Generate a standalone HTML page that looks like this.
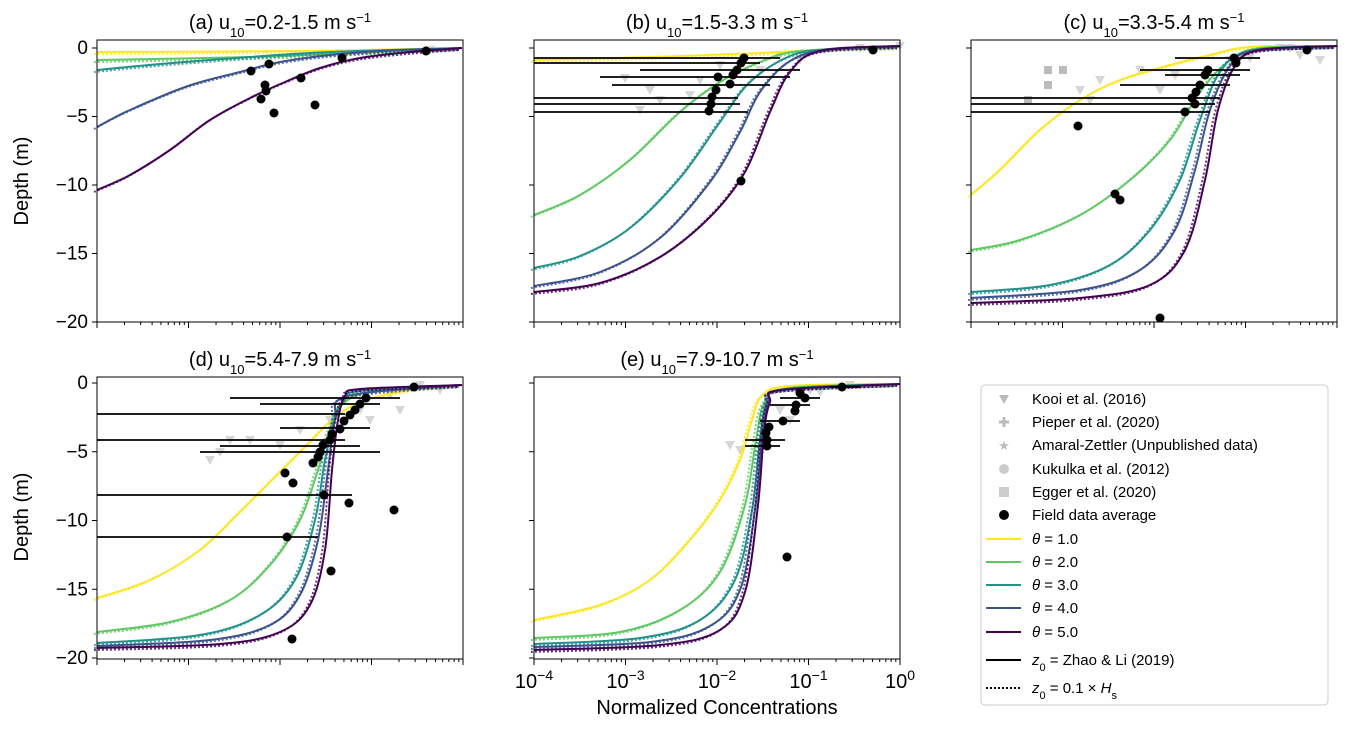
<!DOCTYPE html>
<html><head><meta charset="utf-8"><style>
body{margin:0;background:#fff}
svg{font-family:"Liberation Sans","DejaVu Sans",sans-serif}
</style></head><body>
<svg id="s" width="1351" height="728" xmlns="http://www.w3.org/2000/svg">
<g id="g"></g>
</svg>
<script>
const NS="http://www.w3.org/2000/svg",G=document.getElementById('g');
function el(t,a,txt){const e=document.createElementNS(NS,t);for(const k in a)e.setAttribute(k,a[k]);if(txt!=null)e.innerHTML=txt;G.appendChild(e);return e;}
function smooth(p){let d='M'+p[0][0]+','+p[0][1];for(let i=0;i<p.length-1;i++){const p0=p[i-1]||p[i],p1=p[i],p2=p[i+1],p3=p[i+2]||p2;
 const c1=[p1[0]+(p2[0]-p0[0])/6,p1[1]+(p2[1]-p0[1])/6],c2=[p2[0]-(p3[0]-p1[0])/6,p2[1]-(p3[1]-p1[1])/6];
 d+=`C${c1[0]},${c1[1]} ${c2[0]},${c2[1]} ${p2[0]},${p2[1]}`;}return d;}
const C={y:'#fde725',g:'#5ec962',t:'#21918c',b:'#3b528b',p:'#440154'};
const panels=[
 {x:97,y:40,y0:48,yl:true,t:'(a) u<tspan baseline-shift="sub" font-size="13">10</tspan>=0.2-1.5 m s<tspan baseline-shift="super" font-size="13">−1</tspan>'},
 {x:534,y:40,y0:48,t:'(b) u<tspan baseline-shift="sub" font-size="13">10</tspan>=1.5-3.3 m s<tspan baseline-shift="super" font-size="13">−1</tspan>'},
 {x:971,y:40,y0:48,t:'(c) u<tspan baseline-shift="sub" font-size="13">10</tspan>=3.3-5.4 m s<tspan baseline-shift="super" font-size="13">−1</tspan>'},
 {x:97,y:377,y0:383,yl:true,t:'(d) u<tspan baseline-shift="sub" font-size="13">10</tspan>=5.4-7.9 m s<tspan baseline-shift="super" font-size="13">−1</tspan>'},
 {x:534,y:377,y0:383,xl:true,t:'(e) u<tspan baseline-shift="sub" font-size="13">10</tspan>=7.9-10.7 m s<tspan baseline-shift="super" font-size="13">−1</tspan>'}];
const W=366,H=282,dec=91.5;
const curves=[
 {y:[[97,52],[300,51],[462,48]],g:[[97,60],[250,57],[380,52],[462,48]],t:[[97,70],[160,64],[250,57],[330,52],[462,48]],b:[[97,127],[130,110],[188,86],[240,72],[280,62],[330,55],[380,51],[462,48]],p:[[97,190],[130,175],[170,150],[210,120],[250,98],[285,82],[320,68],[360,58],[410,52],[462,48]]},
 {y:[[534,60],[650,57],[760,53],[850,48],[900,47]],g:[[534,215],[580,195],[630,160],[680,112],[720,82],[760,62],[800,51],[900,47]],t:[[534,268],[580,256],[630,228],[680,178],[720,122],[750,82],[790,56],[830,49],[900,46]],b:[[534,286],[600,272],[660,238],[710,182],[740,132],[760,92],[790,61],[830,49],[900,46]],p:[[534,292],[600,283],[660,257],[710,217],[745,172],[770,112],[790,72],[820,51],[900,46]]},
 {y:[[971,195],[1000,170],[1040,130],[1080,100],[1120,80],[1170,65],[1210,55],[1250,47],[1337,46]],g:[[971,250],[1020,240],[1080,215],[1130,180],[1170,140],[1200,92],[1230,60],[1260,48],[1337,46]],t:[[971,292],[1050,285],[1110,265],[1150,230],[1180,180],[1200,120],[1220,72],[1250,51],[1337,46]],b:[[971,298],[1080,290],[1140,270],[1175,230],[1195,170],[1210,110],[1230,66],[1255,50],[1337,46]],p:[[971,303],[1080,298],[1150,285],[1185,250],[1205,180],[1218,110],[1235,66],[1260,50],[1337,46]]},
 {y:[[97,598],[150,580],[200,550],[240,512],[280,472],[310,442],[330,422],[360,402],[410,390],[462,385]],g:[[97,632],[170,622],[230,600],[270,565],[300,520],[318,470],[330,430],[345,402],[380,390],[462,385]],t:[[97,643],[200,635],[260,615],[295,580],[315,520],[325,460],[335,420],[345,400],[360,391],[462,385]],b:[[97,646],[210,640],[270,625],[300,595],[318,540],[328,470],[335,420],[348,396],[462,385]],p:[[97,648],[220,644],[280,632],[310,605],[325,550],[332,470],[338,420],[345,396],[360,389],[462,385]]},
 {y:[[534,620],[600,605],[650,580],[690,540],[720,500],[740,460],[752,420],[762,396],[790,386],[900,384]],g:[[534,638],[620,632],[680,610],[720,572],[745,505],[756,440],[765,402],[790,388],[900,384]],t:[[534,644],[640,638],[700,620],[735,580],[752,510],[760,440],[767,402],[785,389],[900,384]],b:[[534,647],[650,642],[710,626],[740,590],[755,510],[762,440],[768,402],[782,390],[900,384]],p:[[534,650],[660,645],[720,630],[745,592],[758,505],[764,432],[770,402],[780,390],[900,384]]}];
const pts=[
 [[426,51],[342,58],[301,78],[269,64],[265,85],[266,91],[261,99],[251,71],[274,113],[315,105]],
 [[873,50],[744,58],[741,63],[737,70],[733,75],[718,77],[730,84],[716,90],[712,97],[711,104],[709,111],[741,181]],
 [[1307,50],[1234,58],[1236,63],[1208,70],[1205,75],[1200,85],[1196,92],[1192,98],[1195,104],[1185,112],[1078,126],[1115,194],[1120,200],[1160,318]],
 [[414,387],[366,398],[360,404],[355,410],[350,415],[344,421],[340,429],[332,434],[330,440],[323,445],[320,452],[318,457],[313,463],[285,473],[293,483],[324,495],[349,503],[394,510],[287,537],[331,571],[292,639]],
 [[842,387],[800,393],[805,398],[796,405],[795,411],[783,421],[769,427],[766,433],[767,440],[767,446],[787,557]]];
const bars=[[],
 [[534,780,58],[534,760,63],[640,800,70],[600,790,77],[612,770,85],[534,738,98],[534,740,104],[534,748,112]],
 [[1175,1260,58],[1140,1250,70],[1165,1240,75],[1120,1230,85],[971,1220,98],[971,1215,104],[971,1210,112]],
 [[97,345,414],[97,345,440],[97,352,495],[97,318,537],[200,380,452],[230,400,398],[260,380,404],[280,370,428],[220,360,446]],
 [[830,860,387],[780,820,398],[770,810,405],[760,800,421],[745,785,440],[745,780,446]]];
const grey=[[[430,50]],[[640,110],[660,100],[625,78],[780,55],[800,60],[860,48],[900,46],[720,65],[700,80],[650,90],[690,95],[760,70]],
 [[1080,90],[1100,80],[1140,70],[1280,48],[1300,55],[1320,60],[1250,58],[1175,75],[1160,90],[1090,100],[1290,48],[1230,60]],
 [[300,430],[250,440],[220,452],[210,460],[360,410],[420,385],[440,390],[370,420],[280,445],[400,410],[230,440],[330,420],[390,395]],
 [[740,450],[760,455],[810,390],[850,385],[790,420],[730,445],[820,392],[780,410]]];
panels.forEach((P,i)=>{
 el('text',{x:P.x+W/2,y:P.y-11,'text-anchor':'middle','font-size':20},P.t);
 grey[i].forEach(q=>el('path',{d:`M${q[0]-5},${q[1]-4}h10l-5,9z`,fill:'#999',opacity:.4}));
 if(i==2){[[1048,70],[1063,70],[1048,85],[1028,100]].forEach(q=>el('rect',{x:q[0]-4,y:q[1]-4,width:8,height:8,fill:'#bbb'}));}
 const cv=curves[i];
 ['y','g','t','b','p'].forEach(k=>{
  const a=cv[k];
  el('path',{d:smooth(a.map(q=>[q[0]-3,q[1]+2])),fill:'none',stroke:C[k],'stroke-width':2,'stroke-dasharray':'2,2',opacity:.8});
  el('path',{d:smooth(a),fill:'none',stroke:C[k],'stroke-width':2});
 });
 bars[i].forEach(b=>el('line',{x1:b[0],x2:b[1],y1:b[2],y2:b[2],stroke:'#000','stroke-width':1.8}));
 pts[i].forEach(q=>el('circle',{cx:q[0],cy:q[1],r:4.5,fill:'#000'}));
 el('rect',{x:P.x,y:P.y,width:W,height:H,fill:'none',stroke:'#000','stroke-width':1});
 for(let d=0;d<=20;d+=5){const yy=P.y0+d*13.7*(P.y==40?1:275/274);el('line',{x1:P.x-5,x2:P.x,y1:yy,y2:yy,stroke:'#000'});
  if(P.yl)el('text',{x:P.x-9,y:yy+6,'text-anchor':'end','font-size':19},d==0?'0':'−'+d);}
 for(let e=0;e<=4;e++){const xx=P.x+e*dec;el('line',{x1:xx,x2:xx,y1:P.y+H,y2:P.y+H+6,stroke:'#000'});
  if(e<4)for(let m=2;m<10;m++){const mx=xx+Math.log10(m)*dec;el('line',{x1:mx,x2:mx,y1:P.y+H,y2:P.y+H+3,stroke:'#000'});}
  if(P.xl)el('text',{x:xx,y:P.y+H+29,'text-anchor':'middle','font-size':20},'10<tspan baseline-shift="super" font-size="14">'+(e==4?'0':'−'+(4-e))+'</tspan>');}
});
el('text',{x:717,y:714,'text-anchor':'middle','font-size':20},'Normalized Concentrations');
[181,517].forEach(y=>el('text',{x:28,y:y,'text-anchor':'middle','font-size':20,transform:`rotate(-90 28 ${y})`},'Depth (m)'));
el('rect',{x:981,y:385,width:347,height:320,rx:4,fill:'#fff',stroke:'#ccc'});
const L=[['tri','Kooi et al. (2016)'],['plus','Pieper et al. (2020)'],['star','Amaral-Zettler (Unpublished data)'],['circ','Kukulka et al. (2012)'],['sq','Egger et al. (2020)'],['dot','Field data average'],
 ['y','<tspan font-style="italic">θ</tspan> = 1.0'],['g','<tspan font-style="italic">θ</tspan> = 2.0'],['t','<tspan font-style="italic">θ</tspan> = 3.0'],['b','<tspan font-style="italic">θ</tspan> = 4.0'],['p','<tspan font-style="italic">θ</tspan> = 5.0'],
 ['solid','<tspan font-style="italic">z</tspan><tspan baseline-shift="sub" font-size="11">0</tspan> =  Zhao &amp; Li (2019)'],['dash','<tspan font-style="italic">z</tspan><tspan baseline-shift="sub" font-size="11">0</tspan> = 0.1 × <tspan font-style="italic">H</tspan><tspan baseline-shift="sub" font-size="11">s</tspan>']];
const LY=[399,422,445,469,492,515,539,562,585,608,632,660,688];
L.forEach((l,i)=>{const y=LY[i],x=1004,k=l[0];
 if(k=='tri')el('path',{d:`M${x-5},${y-4}h10l-5,9z`,fill:'#bbb'});
 else if(k=='plus')el('path',{d:`M${x-5},${y}h10M${x},${y-5}v10`,stroke:'#bbb','stroke-width':3});
 else if(k=='star')el('text',{x:x,y:y+5,'text-anchor':'middle','font-size':13,fill:'#bbb'},'★');
 else if(k=='circ')el('circle',{cx:x,cy:y,r:5,fill:'#ccc'});
 else if(k=='sq')el('rect',{x:x-5,y:y-5,width:10,height:10,fill:'#ccc'});
 else if(k=='dot')el('circle',{cx:x,cy:y,r:5,fill:'#000'});
 else if(k=='solid')el('line',{x1:986,x2:1021,y1:y,y2:y,stroke:'#000','stroke-width':2});
 else if(k=='dash')el('line',{x1:986,x2:1021,y1:y,y2:y,stroke:'#000','stroke-width':2,'stroke-dasharray':'2,2'});
 else el('line',{x1:986,x2:1021,y1:y,y2:y,stroke:C[k],'stroke-width':2});
 el('text',{x:1032,y:y+5,'font-size':15},l[1]);});
</script>
</body></html>
